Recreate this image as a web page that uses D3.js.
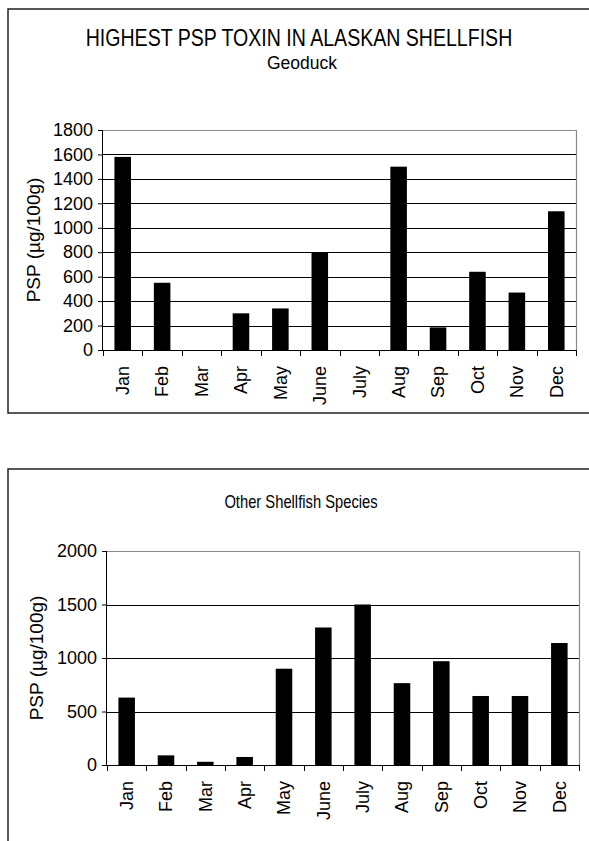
<!DOCTYPE html>
<html>
<head>
<meta charset="utf-8">
<script src="https://cdn.jsdelivr.net/npm/d3@7"></script>
<style>
  html, body { margin: 0; padding: 0; background: #fff; }
  svg { display: block; }
  text { font-family: "Liberation Sans", Arial, sans-serif; fill: #000; }
</style>
</head>
<body>
<svg id="chart" width="589" height="841"></svg>
<script>
const months = ["Jan","Feb","Mar","Apr","May","June","July","Aug","Sep","Oct","Nov","Dec"];
const geoduckValues = [1580, 550, 0, 300, 340, 800, 0, 1500, 185, 640, 470, 1135];
const otherValues = [630, 90, 30, 75, 900, 1285, 1500, 765, 970, 645, 645, 1140];
const geoduckTicks = [0, 200, 400, 600, 800, 1000, 1200, 1400, 1600, 1800];
const otherTicks = [0, 500, 1000, 1500, 2000];
const mainTitle = "HIGHEST PSP TOXIN IN ALASKAN SHELLFISH";
const geoduckTitle = "Geoduck";
const otherTitle = "Other Shellfish Species";
const yTitle = "PSP (\u00B5g/100g)";

const svg = d3.select("#chart");

function panel(cfg) {
  const g = svg.append("g");
  // outer box
  g.append("rect")
    .attr("x", cfg.box.x).attr("y", cfg.box.y)
    .attr("width", cfg.box.w).attr("height", cfg.box.h)
    .attr("fill", "none").attr("stroke", "#222").attr("stroke-width", 1.5);

  const x = d3.scaleBand().domain(months).range([cfg.left, cfg.right]).paddingInner(0.58).paddingOuter(0.29);
  const xb = d3.scaleBand().domain(months).range([cfg.left, cfg.right]);
  const y = d3.scaleLinear().domain([0, cfg.max]).range([cfg.bottom, cfg.top]);

  // grid lines
  g.append("g").selectAll("line").data(cfg.ticks.filter(t => t > 0 && t < cfg.max)).join("line")
    .attr("x1", cfg.left).attr("x2", cfg.right)
    .attr("y1", d => Math.round(y(d)) + 0.5).attr("y2", d => Math.round(y(d)) + 0.5)
    .attr("stroke", "#000").attr("stroke-width", 1);

  // plot area border top & right (grey)
  g.append("path")
    .attr("d", `M${cfg.left},${Math.round(cfg.top)+0.5}H${Math.round(cfg.right)+0.5}V${cfg.bottom}`)
    .attr("fill", "none").attr("stroke", "#8a8a8a").attr("stroke-width", 1.2);

  // bars
  g.append("g").selectAll("rect").data(cfg.values).join("rect")
    .attr("x", (d, i) => x(months[i]))
    .attr("width", x.bandwidth())
    .attr("y", d => y(d))
    .attr("height", d => cfg.bottom - y(d))
    .attr("fill", "#000");

  // y axis
  const yAxis = d3.axisLeft(y).tickValues(cfg.ticks).tickSize(5).tickPadding(5).tickFormat(d3.format("d"));
  const ya = g.append("g").attr("transform", `translate(${cfg.left},0)`).call(yAxis);
  ya.select(".domain").attr("stroke", "#000").attr("d", `M-0.5,${cfg.top}V${cfg.bottom}`);
  ya.selectAll("text").attr("font-size", 18).attr("font-family", "Liberation Sans, Arial, sans-serif").attr("fill", "#000");

  // x axis line
  g.append("line").attr("x1", cfg.left).attr("x2", cfg.right)
    .attr("y1", cfg.bottom + 0.5).attr("y2", cfg.bottom + 0.5)
    .attr("stroke", "#000").attr("stroke-width", 1.2);
  // x ticks at band edges
  const edges = months.map(m => xb(m)).concat([cfg.right]);
  g.append("g").selectAll("line").data(edges).join("line")
    .attr("x1", d => Math.round(d) + 0.5).attr("x2", d => Math.round(d) + 0.5)
    .attr("y1", cfg.bottom).attr("y2", cfg.bottom + 6)
    .attr("stroke", "#000");
  // x labels
  g.append("g").selectAll("text").data(months).join("text")
    .attr("transform", d => `translate(${xb(d) + xb.bandwidth() / 2},${cfg.bottom + 16}) rotate(-90)`)
    .attr("text-anchor", "end")
    .attr("dy", "0.35em")
    .attr("font-size", 18)
    .text(d => d);

  // y title
  g.append("text")
    .attr("transform", `translate(${cfg.yTitleX},${(cfg.top + cfg.bottom) / 2}) rotate(-90)`)
    .attr("text-anchor", "middle")
    .attr("dy", "0.35em")
    .attr("font-size", 19)
    .text(yTitle);
  return g;
}

panel({
  box: {x: 8, y: 9, w: 600, h: 404},
  left: 103, right: 576, top: 130, bottom: 350,
  max: 1800, ticks: geoduckTicks, values: geoduckValues, yTitleX: 33
});

panel({
  box: {x: 8, y: 469, w: 600, h: 400},
  left: 107, right: 579, top: 551, bottom: 765,
  max: 2000, ticks: otherTicks, values: otherValues, yTitleX: 36
});

// titles (condensed horizontally, as in the reference)
svg.append("text").attr("transform", "translate(299,46) scale(0.815,1)").attr("text-anchor", "middle")
  .attr("font-size", 24)
  .text(mainTitle);
svg.append("text").attr("x", 302).attr("y", 69).attr("text-anchor", "middle")
  .attr("font-size", 17.5)
  .text(geoduckTitle);
svg.append("text").attr("transform", "translate(301,508) scale(0.82,1)").attr("text-anchor", "middle")
  .attr("font-size", 18)
  .text(otherTitle);
</script>
</body>
</html>
